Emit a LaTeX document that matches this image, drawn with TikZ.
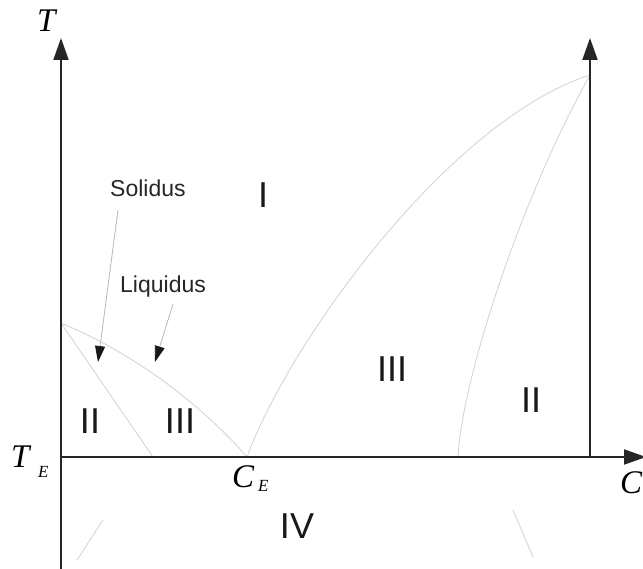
\documentclass[tikz,border=0pt]{standalone}
\usepackage{fontspec}
\setmainfont{Liberation Serif}
\setsansfont{Liberation Sans}
\usetikzlibrary{arrows.meta}
\begin{document}
\begin{tikzpicture}[x=1pt,y=-1pt,
  axis/.style={line width=2pt, black!85, -{Triangle[length=22pt,width=15pt]}},
  phase/.style={line width=0.8pt, black!18},
  pointer/.style={line width=0.8pt, black!28, -{Triangle[length=16pt,width=10pt,color=black!90,fill=black!90]}},
  roman/.style={font=\sffamily\fontsize{36}{36}\selectfont, inner sep=0pt, anchor=base, text=black!90},
  word/.style={font=\sffamily\fontsize{23}{23}\selectfont, inner sep=0pt, anchor=base west, text=black!85},
  sym/.style={font=\itshape\fontsize{33}{33}\selectfont, inner sep=0pt, anchor=base west},
  sub/.style={font=\itshape\fontsize{17}{17}\selectfont, inner sep=0pt, anchor=base west},
]
\useasboundingbox (0,0) rectangle (643,569);
% key points
\coordinate (O) at (61,457);
\coordinate (Ytop) at (61,38);
\coordinate (Ybot) at (61,569);
\coordinate (Xend) at (646,457);
\coordinate (R0) at (590,457);
\coordinate (Rtop) at (590,38);
\coordinate (P) at (590,75);
\coordinate (CE) at (247,457);
\coordinate (A) at (61,323);
\coordinate (S0) at (153,457);
\coordinate (B) at (458,457);
\coordinate (solA) at (118,210);
\coordinate (solTip) at (98,362);
\coordinate (liqA) at (173,304);
\coordinate (liqTip) at (155,362);
\coordinate (f1a) at (77,560);
\coordinate (f1b) at (103,520);
\coordinate (f2a) at (513,510);
\coordinate (f2b) at (533,557);
% phase boundaries
\draw[phase] (CE) .. controls (290,340) and (450,120) .. (P);
\draw[phase] (B) .. controls (462,380) and (520,200) .. (P);
\draw[phase] (A) .. controls (150,360) and (215,420) .. (CE);
\draw[phase] (A) -- (S0);
\draw[phase] (f1a) -- (f1b);
\draw[phase] (f2a) -- (f2b);
% axes
\draw[axis] (Ybot) -- (Ytop);
\draw[axis] (O) -- (Xend);
\draw[axis] (R0) -- (Rtop);
% pointers
\draw[pointer] (solA) -- (solTip);
\draw[pointer] (liqA) -- (liqTip);
% labels
\node[word] (sol) at (110,197) {Solidus};
\node[word] (liq) at (120,293) {Liquidus};
\node[roman] (r1) at (263,208) {I};
\node[roman] (r2a) at (90,433) {II};
\node[roman] (r3a) at (180,433) {III};
\node[roman] (r3b) at (392,382) {III};
\node[roman] (r2b) at (531,413) {II};
\node[roman] (r4) at (297,538) {IV};
\node[sym] (tT) at (37,32) {T};
\node[sym] (tTE) at (11,467) {T};
\node[sub] (tTEs) at (38,477) {E};
\node[sym] (tCE) at (232,487) {C};
\node[sub] (tCEs) at (258,491) {E};
\node[sym] (tC) at (620,493) {C};
\end{tikzpicture}
\end{document}
